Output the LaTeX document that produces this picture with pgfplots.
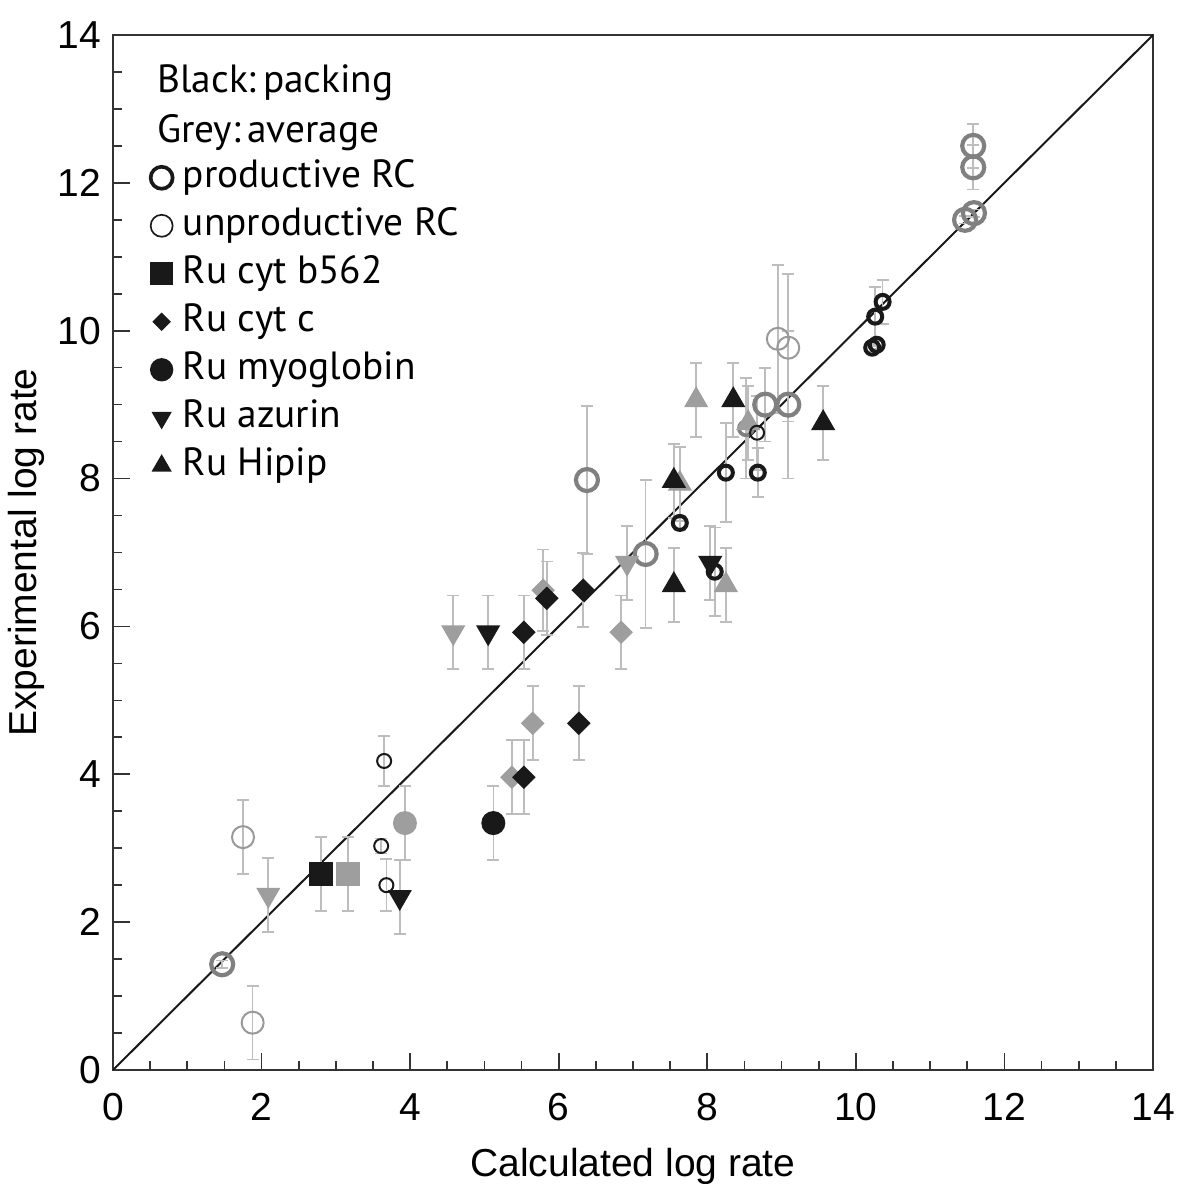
\documentclass[border=0pt]{standalone}
\usepackage{fontspec}
\setmainfont{Liberation Sans}
\newfontfamily\legfont{PT Sans}
\usepackage{pgfplots}
\pgfplotsset{compat=1.18}
\usepackage{pgfplotstable}

\definecolor{blk}{gray}{0.1}
\definecolor{gmark}{gray}{0.62}
\definecolor{gring}{gray}{0.5}
\definecolor{gthin}{gray}{0.6}
\definecolor{ebar}{gray}{0.74}

% x y err  (grey = average, black = packing)
\pgfplotstableread{
x y e
1.47 1.43 0.05
6.38 7.98 1.0
7.17 6.98 1.0
8.78 9.00 0.5
9.09 9.00 1.0
11.58 12.50 0.3
11.58 12.21 0.3
11.47 11.50 0.05
11.59 11.59 0.05
}\prodgrey
\pgfplotstableread{
x y e
8.52 8.68 0.68
}\prodgreysm
\pgfplotstableread{
x y e
1.75 3.15 0.5
1.88 0.64 0.5
8.95 9.89 1.0
9.09 9.77 1.0
}\unprodgrey
\pgfplotstableread{
x y e
7.63 7.40 0.1
8.10 6.74 0.6
8.25 8.08 0.67
8.68 8.08 0.33
10.36 10.39 0.3
10.26 10.19 0.4
10.22 9.77 0.05
10.28 9.81 0.05
}\prodblack
\pgfplotstableread{
x y e
3.65 4.18 0.34
3.61 3.03 0.1
3.68 2.50 0.35
8.67 8.62 0.5
}\unprodblack
\pgfplotstableread{
x y e
2.80 2.65 0.5
}\sqblack
\pgfplotstableread{
x y e
3.16 2.65 0.5
}\sqgrey
\pgfplotstableread{
x y e
5.12 3.34 0.5
}\cirblack
\pgfplotstableread{
x y e
3.93 3.34 0.5
}\cirgrey
\pgfplotstableread{
x y e
5.53 3.96 0.5
6.27 4.69 0.5
5.53 5.92 0.5
5.84 6.38 0.5
6.33 6.49 0.5
}\diablack
\pgfplotstableread{
x y e
5.37 3.96 0.5
5.65 4.69 0.5
6.84 5.92 0.5
5.79 6.49 0.55
}\diagrey
\pgfplotstableread{
x y e
3.86 2.34 0.5
5.05 5.92 0.5
8.04 6.86 0.5
}\dnblack
\pgfplotstableread{
x y e
2.09 2.37 0.5
4.58 5.92 0.5
6.92 6.86 0.5
}\dngrey
\pgfplotstableread{
x y e
7.55 7.97 0.5
7.55 6.56 0.5
8.35 9.06 0.5
9.56 8.75 0.5
}\upblack
\pgfplotstableread{
x y e
7.85 9.06 0.5
7.63 7.93 0.5
8.25 6.56 0.5
8.55 8.75 0.5
}\upgrey

\pgfplotsset{
  errs/.style={forget plot, draw=none, mark=none,
    error bars/.cd, y dir=both, y explicit,
    error bar style={draw=ebar, line width=0.5pt},
    error mark options={draw=ebar, rotate=90, mark size=1.8pt, line width=0.5pt}},
  pts/.style={forget plot, only marks},
}

\begin{document}
\begin{tikzpicture}
\begin{axis}[
  name=ax,
  scale only axis,
  width=312pt, height=310.5pt,
  xmin=0, xmax=14, ymin=0, ymax=14,
  xtick={0,2,...,14}, ytick={0,2,...,14},
  minor tick num=3,
  tick align=inside,
  xtick pos=left, ytick pos=left,
  major tick length=5.2pt, minor tick length=2.6pt,
  axis line style={draw=black!80, line width=0.7pt},
  tick style={black!80, line width=0.5pt},
  tick label style={font=\fontsize{11.7}{14}\selectfont},
  /pgf/number format/assume math mode=true,
  xticklabel style={yshift=-3.5pt},
  yticklabel style={xshift=0pt},
  label style={font=\fontsize{11.7}{14}\selectfont},
  xlabel={Calculated log rate},
  ylabel={Experimental log rate},
  xlabel style={at={(axis description cs:0.5,-0.064)}, anchor=north},
  ylabel style={at={(axis description cs:-0.054,0.5)}, anchor=south},
  legend style={draw=none, fill=none, at={(0.033,0.882)}, anchor=north west,
    font=\legfont\fontsize{11.8}{14}\selectfont, row sep=2.4pt,
    inner xsep=0pt, inner ysep=0pt,
    nodes={inner xsep=1.5pt, inner ysep=0pt, text height=9pt, text depth=3pt}},
  legend cell align=left,
  legend image code/.code={\path (0pt,0pt) (8.6pt,0pt);
    \draw plot coordinates {(3.9pt,0pt)};},
]
\addplot[blk, line width=0.6pt, forget plot] coordinates {(0,0) (14,14)};

% error bars first
\addplot[errs] table[x=x,y=y,y error=e] {\prodgrey};
\addplot[errs] table[x=x,y=y,y error=e] {\prodgreysm};
\addplot[errs] table[x=x,y=y,y error=e] {\unprodgrey};
\addplot[errs] table[x=x,y=y,y error=e] {\prodblack};
\addplot[errs] table[x=x,y=y,y error=e] {\unprodblack};
\addplot[errs] table[x=x,y=y,y error=e] {\sqblack};
\addplot[errs] table[x=x,y=y,y error=e] {\sqgrey};
\addplot[errs] table[x=x,y=y,y error=e] {\cirblack};
\addplot[errs] table[x=x,y=y,y error=e] {\cirgrey};
\addplot[errs] table[x=x,y=y,y error=e] {\diablack};
\addplot[errs] table[x=x,y=y,y error=e] {\diagrey};
\addplot[errs] table[x=x,y=y,y error=e] {\dnblack};
\addplot[errs] table[x=x,y=y,y error=e] {\dngrey};
\addplot[errs] table[x=x,y=y,y error=e] {\upblack};
\addplot[errs] table[x=x,y=y,y error=e] {\upgrey};

% grey (average) markers
\addplot[pts, mark=o, mark size=3.3pt, mark options={draw=gthin, line width=0.6pt}] table[x=x,y=y] {\unprodgrey};
\addplot[pts, mark=o, mark size=3.3pt, mark options={draw=gring, line width=1.25pt}] table[x=x,y=y] {\prodgrey};
\addplot[pts, mark=o, mark size=2.1pt, mark options={draw=gring, line width=1.1pt}] table[x=x,y=y] {\prodgreysm};
\addplot[pts, mark=square*, mark size=3.4pt, mark options={draw=gmark, fill=gmark}] table[x=x,y=y] {\sqgrey};
\addplot[pts, mark=*, mark size=3.4pt, mark options={draw=gmark, fill=gmark}] table[x=x,y=y] {\cirgrey};
\addplot[pts, mark=square*, mark size=2.3pt, mark options={draw=gmark, fill=gmark, rotate=45}] table[x=x,y=y] {\diagrey};
\addplot[pts, mark=triangle*, mark size=3.8pt, mark options={draw=gmark, fill=gmark, rotate=180}] table[x=x,y=y] {\dngrey};
\addplot[pts, mark=triangle*, mark size=3.8pt, mark options={draw=gmark, fill=gmark}] table[x=x,y=y] {\upgrey};

% black (packing) markers
\addplot[pts, mark=o, mark size=2.1pt, mark options={draw=blk, line width=0.6pt}] table[x=x,y=y] {\unprodblack};
\addplot[pts, mark=o, mark size=2.1pt, mark options={draw=blk, line width=1.2pt}] table[x=x,y=y] {\prodblack};
\addplot[pts, mark=square*, mark size=3.4pt, mark options={draw=blk, fill=blk}] table[x=x,y=y] {\sqblack};
\addplot[pts, mark=*, mark size=3.4pt, mark options={draw=blk, fill=blk}] table[x=x,y=y] {\cirblack};
\addplot[pts, mark=square*, mark size=2.3pt, mark options={draw=blk, fill=blk, rotate=45}] table[x=x,y=y] {\diablack};
\addplot[pts, mark=triangle*, mark size=3.8pt, mark options={draw=blk, fill=blk, rotate=180}] table[x=x,y=y] {\dnblack};
\addplot[pts, mark=triangle*, mark size=3.8pt, mark options={draw=blk, fill=blk}] table[x=x,y=y] {\upblack};

% legend
\addlegendimage{only marks, mark=o, mark size=3.3pt, mark options={draw=blk, line width=1.1pt}}
\addlegendentry{productive RC}
\addlegendimage{only marks, mark=o, mark size=3.3pt, mark options={draw=blk, line width=0.5pt}}
\addlegendentry{unproductive RC}
\addlegendimage{only marks, mark=square*, mark size=3.3pt, mark options={draw=blk, fill=blk}}
\addlegendentry{Ru cyt b562}
\addlegendimage{only marks, mark=square*, mark size=1.75pt, mark options={draw=blk, fill=blk, rotate=45}}
\addlegendentry{Ru cyt c}
\addlegendimage{only marks, mark=*, mark size=3.3pt, mark options={draw=blk, fill=blk}}
\addlegendentry{Ru myoglobin}
\addlegendimage{only marks, mark=triangle*, mark size=3.1pt, mark options={draw=blk, fill=blk, rotate=180}}
\addlegendentry{Ru azurin}
\addlegendimage{only marks, mark=triangle*, mark size=3.1pt, mark options={draw=blk, fill=blk}}
\addlegendentry{Ru Hipip}

\node[anchor=north west, align=left, inner sep=0pt,
  font=\legfont\fontsize{11.8}{15}\selectfont]
  at (axis description cs:0.042,0.972) {Black:\,packing\\Grey:\,average};
\end{axis}
\pgfresetboundingbox
\path[use as bounding box] ([shift={(-33.9pt,-34.2pt)}]ax.south west) rectangle ++(353.7pt,355.2pt);
\end{tikzpicture}
\end{document}
